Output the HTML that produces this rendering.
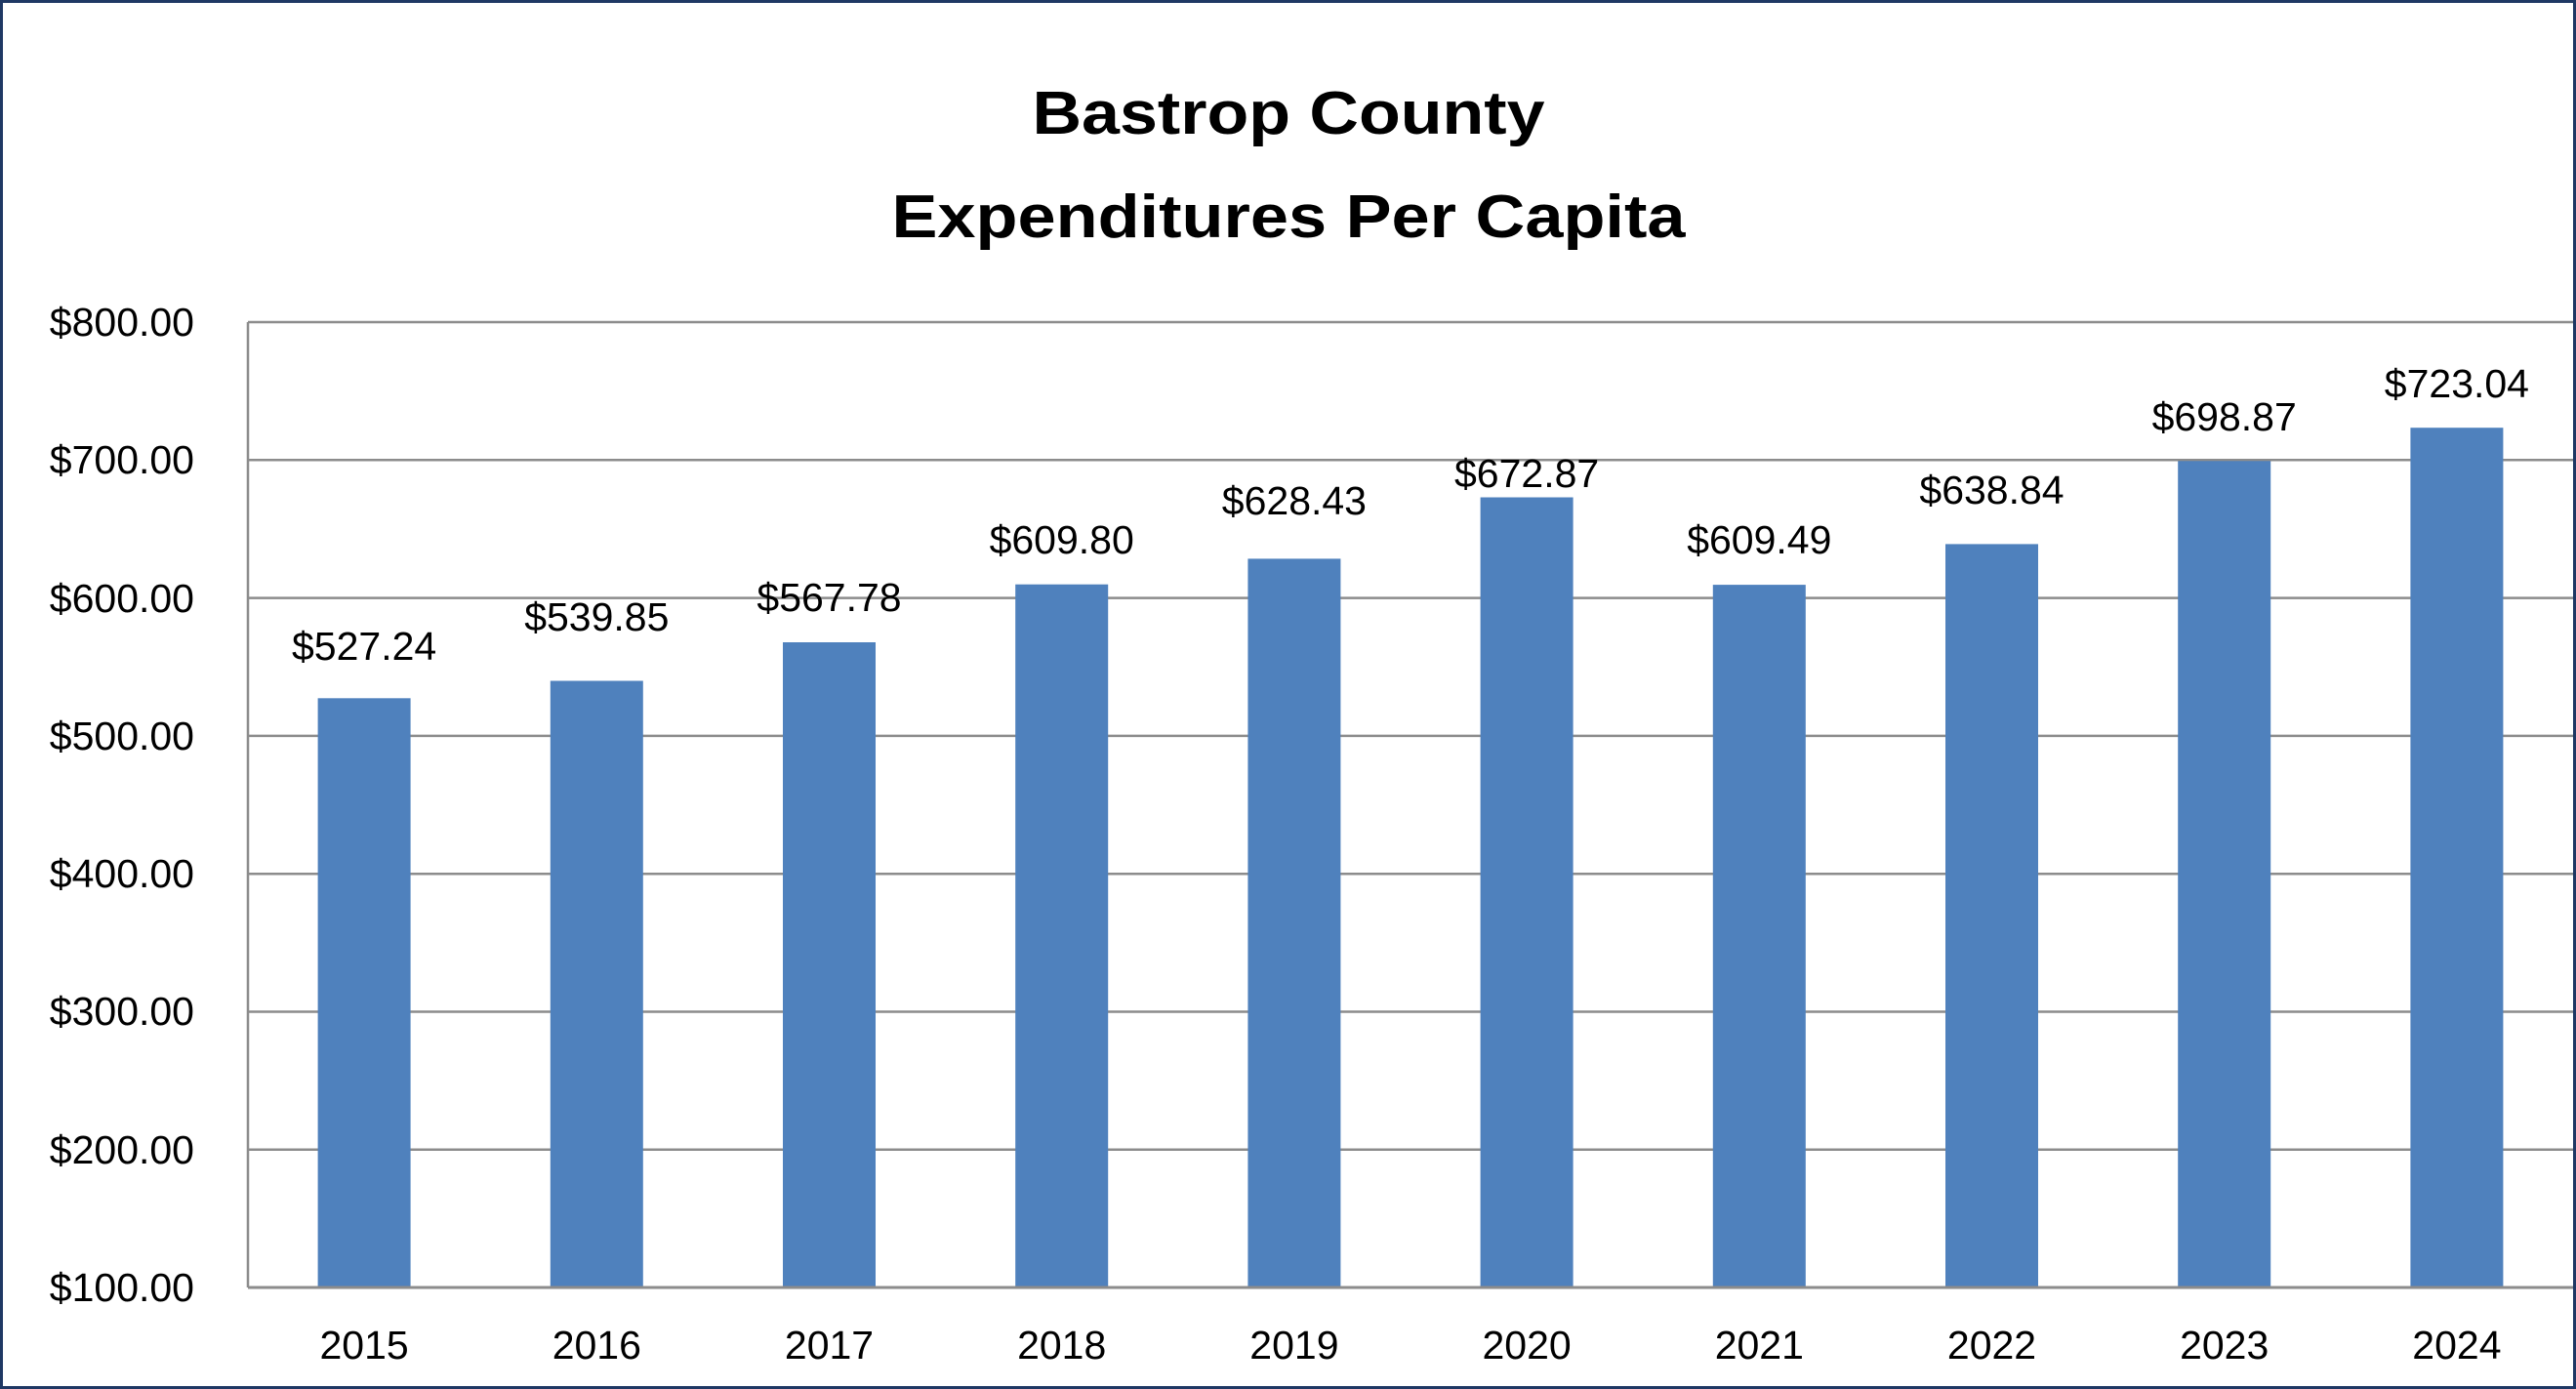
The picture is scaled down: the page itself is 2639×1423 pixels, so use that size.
<!DOCTYPE html>
<html><head><meta charset="utf-8"><style>
html,body{margin:0;padding:0;background:#fff;}
svg{display:block;}
</style></head><body>
<svg width="2639" height="1423" viewBox="0 0 2639 1423" xmlns="http://www.w3.org/2000/svg" font-family="'Liberation Sans', sans-serif">
<rect x="0" y="0" width="2639" height="1423" fill="#fff"/>
<rect x="1.5" y="1.5" width="2636" height="1420" fill="none" stroke="#1f3864" stroke-width="3"/>
<text x="1320" y="137" font-size="62" font-weight="bold" text-anchor="middle" textLength="525" lengthAdjust="spacingAndGlyphs">Bastrop County</text>
<text x="1320" y="243" font-size="62" font-weight="bold" text-anchor="middle" textLength="813" lengthAdjust="spacingAndGlyphs">Expenditures Per Capita</text>
<g stroke="#8c8c8c" stroke-width="2.5">
<line x1="254" y1="330" x2="2636" y2="330"/>
<line x1="254" y1="471.3" x2="2636" y2="471.3"/>
<line x1="254" y1="612.6" x2="2636" y2="612.6"/>
<line x1="254" y1="753.9" x2="2636" y2="753.9"/>
<line x1="254" y1="895.2" x2="2636" y2="895.2"/>
<line x1="254" y1="1036.5" x2="2636" y2="1036.5"/>
<line x1="254" y1="1177.8" x2="2636" y2="1177.8"/>
<line x1="254" y1="330" x2="254" y2="1319"/>
</g>
<g font-size="41" text-anchor="end" fill="#000">
<text x="199" y="344">$800.00</text>
<text x="199" y="485">$700.00</text>
<text x="199" y="627">$600.00</text>
<text x="199" y="768">$500.00</text>
<text x="199" y="909">$400.00</text>
<text x="199" y="1050">$300.00</text>
<text x="199" y="1192">$200.00</text>
<text x="199" y="1333">$100.00</text>
</g>
<g fill="#4f81bd">
<rect x="325.6" y="715.3" width="95" height="603.7"/>
<rect x="563.8" y="697.5" width="95" height="621.5"/>
<rect x="802" y="658" width="95" height="661"/>
<rect x="1040.2" y="598.7" width="95" height="720.3"/>
<rect x="1278.4" y="572.4" width="95" height="746.6"/>
<rect x="1516.6" y="509.5" width="95" height="809.5"/>
<rect x="1754.8" y="599.1" width="95" height="719.9"/>
<rect x="1993" y="557.4" width="95" height="761.6"/>
<rect x="2231.2" y="472.3" width="95" height="846.7"/>
<rect x="2469.4" y="438.2" width="95" height="880.8"/>
</g>
<line x1="254" y1="1319" x2="2636" y2="1319" stroke="#8c8c8c" stroke-width="3"/>
<g font-size="41" text-anchor="middle" fill="#000">
<text x="373.1" y="676">$527.24</text>
<text x="611.3" y="646">$539.85</text>
<text x="849.5" y="626">$567.78</text>
<text x="1087.7" y="567">$609.80</text>
<text x="1325.9" y="527">$628.43</text>
<text x="1564.1" y="499">$672.87</text>
<text x="1802.3" y="567">$609.49</text>
<text x="2040.5" y="516">$638.84</text>
<text x="2278.7" y="441">$698.87</text>
<text x="2516.9" y="407">$723.04</text>
</g>
<g font-size="41" text-anchor="middle" fill="#000">
<text x="373.1" y="1392">2015</text>
<text x="611.3" y="1392">2016</text>
<text x="849.5" y="1392">2017</text>
<text x="1087.7" y="1392">2018</text>
<text x="1325.9" y="1392">2019</text>
<text x="1564.1" y="1392">2020</text>
<text x="1802.3" y="1392">2021</text>
<text x="2040.5" y="1392">2022</text>
<text x="2278.7" y="1392">2023</text>
<text x="2516.9" y="1392">2024</text>
</g>
</svg>
</body></html>
